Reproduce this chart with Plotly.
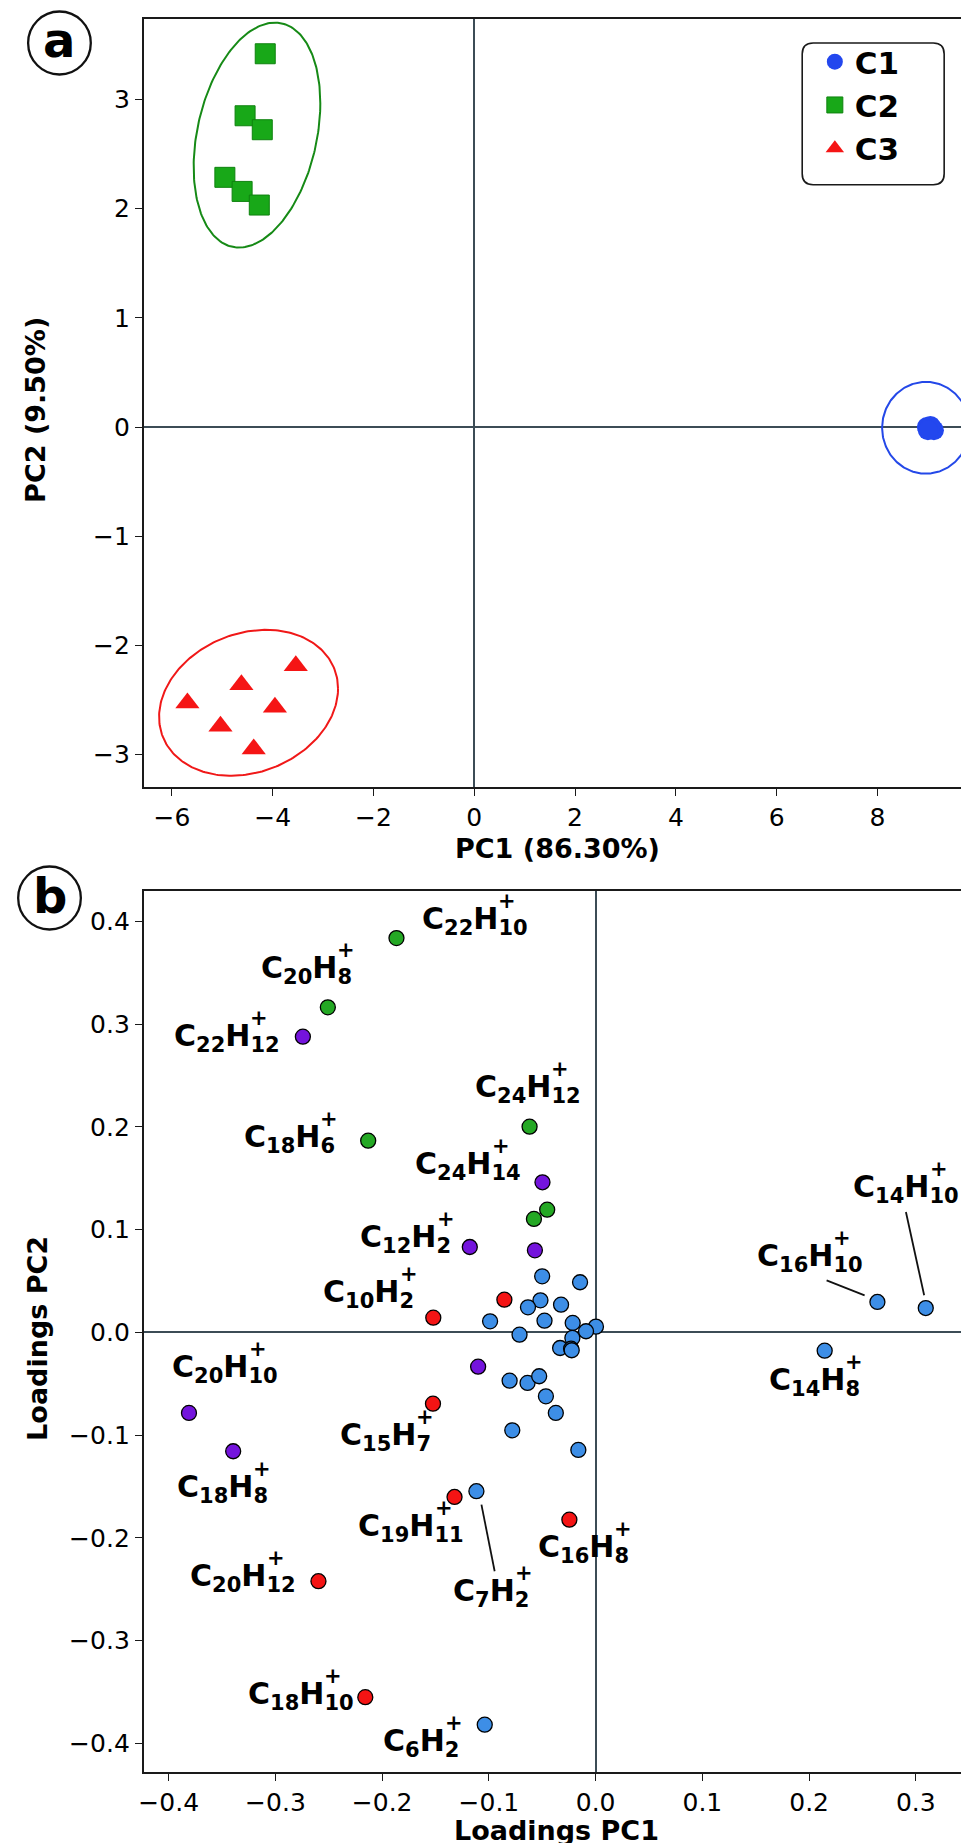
import numpy as np
import plotly.graph_objects as go

W, H = 969, 1843

# ---------------- Panel a: PCA scores ----------------
c1_pc1 = [8.98, 9.03, 9.08, 9.12, 9.05, 9.00]
c1_pc2 = [0.00, -0.02, -0.01, -0.03, 0.01, -0.03]
c2_pc1 = [-4.147, -4.547, -4.206, -4.948, -4.606, -4.265]
c2_pc2 = [3.419, 2.851, 2.723, 2.287, 2.158, 2.033]
c3_pc1 = [-5.691, -4.620, -3.541, -3.955, -5.035, -4.376]
c3_pc2 = [-2.527, -2.360, -2.186, -2.567, -2.741, -2.949]
group_names = ["C1", "C2", "C3"]

# confidence ellipses: centre x, centre y, var x, var y, cov xy
ellipse_c1 = [8.96, -0.007, 0.7534, 0.1767, 0.0]
ellipse_c2 = [-4.311, 2.674, 1.579, 1.0613, 0.3658]
ellipse_c3 = [-4.478, -2.526, 3.152, 0.4469, 0.2308]

a_xticks = [-6, -4, -2, 0, 2, 4, 6, 8]
a_xticktext = ["−6", "−4", "−2", "0", "2", "4", "6", "8"]
a_yticks = [-3, -2, -1, 0, 1, 2, 3]
a_yticktext = ["−3", "−2", "−1", "0", "1", "2", "3"]

# ---------------- Panel b: loadings ----------------
load_pc1 = [
    -0.1866, -0.2509, -0.2131, -0.0619, -0.0454, -0.0578,                      # green
    -0.2743, -0.0498, -0.1179, -0.0569, -0.1101, -0.3810, -0.3396,             # purple
    -0.0855, -0.1521, -0.1524, -0.1322, -0.0246, -0.2597, -0.2158,             # red
    -0.0501, -0.0146, -0.0517, -0.0634, -0.0324, -0.0989, -0.0479, -0.0215,    # blue
    0.0003, -0.0090, -0.0713, -0.0218, -0.0333, -0.0230, -0.0224, -0.0806,
    -0.0638, -0.0529, -0.0466, -0.0373, -0.0781, -0.0162, -0.1117, -0.1039,
    0.2640, 0.3093, 0.2146]
load_pc2 = [
    0.3837, 0.3163, 0.1865, 0.2001, 0.1193, 0.1103,
    0.2877, 0.1460, 0.0830, 0.0798, -0.0335, -0.0785, -0.1158,
    0.0317, 0.0142, -0.0695, -0.1603, -0.1824, -0.2423, -0.3552,
    0.0545, 0.0487, 0.0311, 0.0243, 0.0269, 0.0107, 0.0113, 0.0091,
    0.0055, 0.0010, -0.0023, -0.0055, -0.0153, -0.0160, -0.0175, -0.0471,
    -0.0493, -0.0428, -0.0623, -0.0785, -0.0954, -0.1145, -0.1547, -0.3819,
    0.0295, 0.0236, -0.0179]
load_group = (["green"] * 6 + ["purple"] * 7 + ["red"] * 7 + ["blue"] * 27)

# labels: carbon count, hydrogen count, label anchor (left, baseline) in data units
lab_c = ["22", "20", "22", "18", "24", "24", "12", "10", "16", "14", "14",
         "20", "18", "15", "19", "20", "16", "7", "18", "6"]
lab_h = ["10", "8", "12", "6", "12", "14", "2", "2", "10", "10", "8",
         "10", "8", "7", "11", "12", "8", "2", "10", "2"]
lab_x = [-0.1623, -0.3131, -0.3950, -0.3293, -0.1126, -0.1686, -0.2199, -0.2547,
         0.1517, 0.2419, 0.1626, -0.3962, -0.3918, -0.2392, -0.2220, -0.3794,
         -0.0535, -0.1328, -0.3254, -0.1985]
lab_y = [0.3923, 0.3438, 0.2783, 0.1794, 0.2280, 0.1534, 0.0820, 0.0285,
         0.0642, 0.1307, -0.0571, -0.0445, -0.1613, -0.1100, -0.1985, -0.2472,
         -0.2197, -0.2618, -0.3624, -0.4078]
# leader lines (x0, y0, x1, y1)
leaders = [(0.2520, 0.0360, 0.2164, 0.0506),
           (0.3078, 0.0360, 0.2907, 0.1171),
           (-0.1070, -0.1678, -0.0946, -0.2326)]

b_xticks = [-0.4, -0.3, -0.2, -0.1, 0.0, 0.1, 0.2, 0.3]
b_xticktext = ["−0.4", "−0.3", "−0.2", "−0.1", "0.0", "0.1", "0.2", "0.3"]
b_yticks = [-0.4, -0.3, -0.2, -0.1, 0.0, 0.1, 0.2, 0.3, 0.4]
b_yticktext = ["−0.4", "−0.3", "−0.2", "−0.1", "0.0", "0.1", "0.2", "0.3", "0.4"]

# ---------------- styles ----------------
FONT = "DejaVu Sans"
col_a = {"C1": "#2347ee", "C2": "#18a818", "C3": "#f51515"}
col_ell = {"C1": "#2448e8", "C2": "#168a16", "C3": "#f01818"}
col_b = {"blue": "#3d8ee6", "green": "#24a824", "purple": "#7414dc", "red": "#f41414"}
ZL = "#3c4c56"


def px(x):
    return x / W


def py(y):
    return 1 - y / H


def ellipse(p, n=240):
    cx, cy, sxx, syy, sxy = p
    L = np.linalg.cholesky(np.array([[sxx, sxy], [sxy, syy]]))
    t = np.linspace(0, 2 * np.pi, n)
    pts = L @ np.vstack([np.cos(t), np.sin(t)])
    return cx + pts[0], cy + pts[1]


fig = go.Figure()

# ellipses
for name, p in zip(group_names, [ellipse_c1, ellipse_c2, ellipse_c3]):
    ex, ey = ellipse(p)
    fig.add_trace(go.Scatter(x=ex, y=ey, mode="lines", line=dict(color=col_ell[name], width=2),
                             showlegend=False, hoverinfo="skip", xaxis="x", yaxis="y"))

fig.add_trace(go.Scatter(x=c1_pc1, y=c1_pc2, mode="markers", name="C1",
                         marker=dict(symbol="circle", size=20, color=col_a["C1"]),
                         xaxis="x", yaxis="y"))
fig.add_trace(go.Scatter(x=c2_pc1, y=c2_pc2, mode="markers", name="C2",
                         marker=dict(symbol="square", size=20, color=col_a["C2"],
                                     line=dict(color="#0f820f", width=1)),
                         xaxis="x", yaxis="y"))
fig.add_trace(go.Scatter(x=c3_pc1, y=c3_pc2, mode="markers", name="C3",
                         marker=dict(symbol="triangle-up", size=21, color=col_a["C3"]),
                         xaxis="x", yaxis="y"))

# panel b points
for g in ["blue", "green", "purple", "red"]:
    xs = [x for x, gg in zip(load_pc1, load_group) if gg == g]
    ys = [y for y, gg in zip(load_pc2, load_group) if gg == g]
    fig.add_trace(go.Scatter(x=xs, y=ys, mode="markers", showlegend=False,
                             marker=dict(symbol="circle", size=15, color=col_b[g],
                                         line=dict(color="black", width=1.3)),
                             xaxis="x2", yaxis="y2"))

axis_common = dict(showline=True, mirror=True, linecolor="#1a1a1a", linewidth=1.6,
                   ticks="outside", ticklen=7, tickwidth=1.3, tickcolor="#1a1a1a",
                   showgrid=False, zeroline=True, zerolinecolor=ZL, zerolinewidth=1.6,
                   tickfont=dict(family=FONT, size=25, color="black"), tickmode="array")

XD = [131.3 / W, 963.2 / W]

fig.update_layout(
    width=W, height=H, margin=dict(l=0, r=0, t=0, b=0),
    paper_bgcolor="white", plot_bgcolor="white",
    font=dict(family=FONT, color="black"),
    xaxis=dict(axis_common, domain=XD, range=[-6.56, 9.86], tickvals=a_xticks,
               ticktext=a_xticktext, anchor="y"),
    yaxis=dict(axis_common, domain=[py(779.3), py(10.7)], range=[-3.30, 3.74],
               tickvals=a_yticks, ticktext=a_yticktext, anchor="x"),
    xaxis2=dict(axis_common, domain=XD, range=[-0.4235, 0.3519], tickvals=b_xticks,
                ticktext=b_xticktext, anchor="y2"),
    yaxis2=dict(axis_common, domain=[py(1763.7), py(882.7)], range=[-0.4277, 0.4298],
                tickvals=b_yticks, ticktext=b_yticktext, anchor="x2"),
    legend=dict(x=px(806), y=py(27), xanchor="left", yanchor="top",
                bgcolor="rgba(0,0,0,0)", borderwidth=0,
                font=dict(family=FONT, size=31, color="black", weight="bold"),
                itemsizing="trace", tracegroupgap=0),
    showlegend=True,
)

shapes = []
# rounded legend frame
x0, y0, x1, y1, r = 793.3, 35, 936, 176.7, 11
path = (f"M {px(x0 + r)},{py(y0)} L {px(x1 - r)},{py(y0)} "
        f"Q {px(x1)},{py(y0)} {px(x1)},{py(y0 + r)} L {px(x1)},{py(y1 - r)} "
        f"Q {px(x1)},{py(y1)} {px(x1 - r)},{py(y1)} L {px(x0 + r)},{py(y1)} "
        f"Q {px(x0)},{py(y1)} {px(x0)},{py(y1 - r)} L {px(x0)},{py(y0 + r)} "
        f"Q {px(x0)},{py(y0)} {px(x0 + r)},{py(y0)} Z")
shapes.append(dict(type="path", xref="paper", yref="paper", path=path,
                   line=dict(color="#1a1a1a", width=1.6), fillcolor="rgba(0,0,0,0)", layer="above"))
# panel letter circles
for cx, cy in [(46.7, 35), (36.7, 890)]:
    rr = 31.5
    shapes.append(dict(type="circle", xref="paper", yref="paper",
                       x0=px(cx - rr), x1=px(cx + rr), y0=py(cy + rr), y1=py(cy - rr),
                       line=dict(color="#111111", width=2.3)))
# leader lines
for (lx0, ly0, lx1, ly1) in leaders:
    shapes.append(dict(type="line", xref="x2", yref="y2", x0=lx0, y0=ly0, x1=lx1, y1=ly1,
                       line=dict(color="#111111", width=1.8)))
fig.update_layout(shapes=shapes)

ann = []
# panel letters
ann.append(dict(text="<b>a</b>", x=px(46.7), y=py(32), xref="paper", yref="paper",
                showarrow=False, xanchor="center", yanchor="middle",
                font=dict(family=FONT, size=48, color="black")))
ann.append(dict(text="<b>b</b>", x=px(36.7), y=py(888), xref="paper", yref="paper",
                showarrow=False, xanchor="center", yanchor="middle",
                font=dict(family=FONT, size=48, color="black")))
# axis titles
title_font = dict(family=FONT, size=27, color="black")
ann.append(dict(text="<b>PC1 (86.30%)</b>", x=px(547), y=py(840), xref="paper", yref="paper",
                showarrow=False, xanchor="center", yanchor="middle", font=title_font))
ann.append(dict(text="<b>PC2 (9.50%)</b>", x=px(23), y=py(402), xref="paper", yref="paper",
                showarrow=False, xanchor="center", yanchor="middle", textangle=-90, font=title_font))
ann.append(dict(text="<b>Loadings PC1</b>", x=px(546), y=py(1822), xref="paper", yref="paper",
                showarrow=False, xanchor="center", yanchor="middle", font=title_font))
ann.append(dict(text="<b>Loadings PC2</b>", x=px(24), y=py(1330), xref="paper", yref="paper",
                showarrow=False, xanchor="center", yanchor="middle", textangle=-90, font=title_font))

# chemical formula labels with stacked "+" charge
LFS = 30
WC, WH, WD = 0.734, 0.837, 0.696
for c, h, lx, ly in zip(lab_c, lab_h, lab_x, lab_y):
    ann.append(dict(text=f"<b>C<sub>{c}</sub>H<sub>{h}</sub></b>", x=lx, y=ly, xref="x2", yref="y2",
                    showarrow=False, xanchor="left", yanchor="bottom", xshift=-2.5, yshift=-12.3,
                    font=dict(family=FONT, size=LFS, color="black")))
    off = (WC + len(c) * WD * 0.7 + WH) * LFS
    ann.append(dict(text="<b>+</b>", x=lx, y=ly, xref="x2", yref="y2",
                    showarrow=False, xanchor="left", yanchor="bottom", xshift=off - 2.5, yshift=14.6,
                    font=dict(family=FONT, size=int(LFS * 0.7), color="black")))
fig.update_layout(annotations=ann)

fig.write_html("out.html")
